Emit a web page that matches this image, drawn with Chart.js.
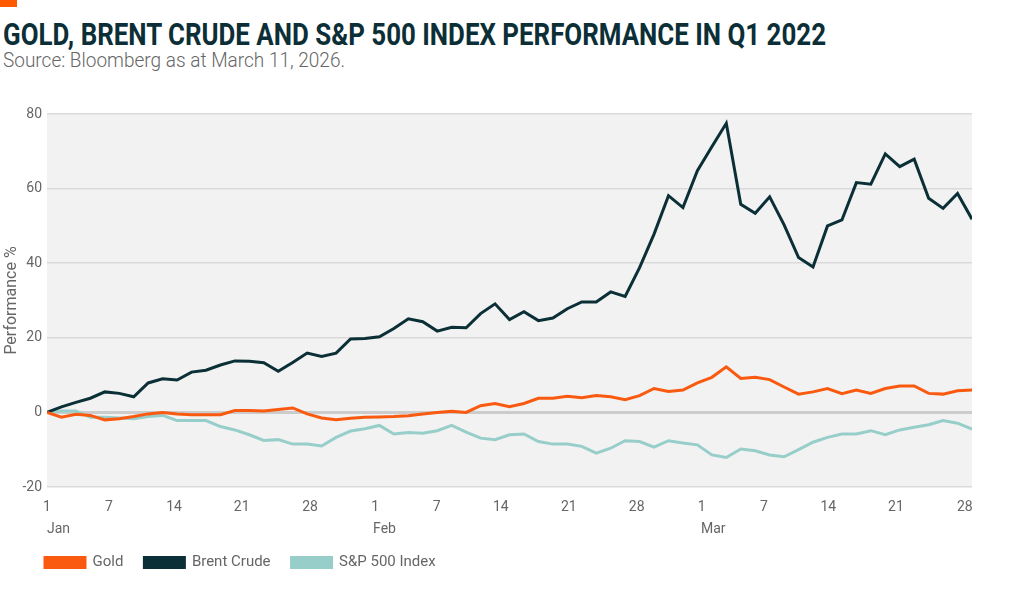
<!DOCTYPE html>
<html><head><meta charset="utf-8">
<script src="https://cdn.jsdelivr.net/npm/chart.js@4.4.1/dist/chart.umd.min.js"></script>
<style>
html,body{margin:0;padding:0;background:#fff;width:1024px;height:601px;overflow:hidden;}
#bar{position:absolute;left:0;top:0;width:17px;height:7px;background:#ff5a00;}
#title{position:absolute;left:3px;top:19px;font:700 31px Roboto;line-height:1;color:#0c2f37;white-space:nowrap;transform-origin:0 0;}
#sub{position:absolute;left:3px;top:50px;font:300 20px Roboto;line-height:1;color:#666;white-space:nowrap;transform-origin:0 0;}
#wrap{position:absolute;left:0;top:95px;width:1024px;height:506px;}
</style></head>
<body>
<div id="bar"></div>
<div id="title">GOLD, BRENT CRUDE AND S&amp;P 500 INDEX PERFORMANCE IN Q1 2022</div>
<div id="sub">Source: Bloomberg as at March 11, 2026.</div>
<div id="wrap"><canvas id="c"></canvas></div>
<script>
// ---- data (one value per trading day, 65 points) ----
const gold = [0,-1.3,-0.5,-0.8,-2.0,-1.7,-1.1,-0.4,0,-0.4,-0.6,-0.6,-0.6,0.5,0.5,0.4,0.8,1.2,-0.4,-1.5,-2.0,
  -1.6,-1.3,-1.2,-1.1,-0.9,-0.4,0,0.3,0,1.8,2.4,1.5,2.4,3.8,3.8,4.3,3.9,4.5,4.2,3.4,
  4.5,6.4,5.6,6.0,7.9,9.4,12.2,9.1,9.4,8.8,6.8,4.9,5.5,6.4,5.0,6.0,5.1,6.4,7.1,7.1,5.1,4.9,5.8,6.0];
const brent = [0,1.5,2.7,3.8,5.5,5.1,4.2,7.9,9.0,8.7,10.8,11.3,12.7,13.8,13.7,13.3,11.0,13.4,15.9,15.0,15.9,
  19.7,19.8,20.3,22.5,25.1,24.3,21.8,22.8,22.7,26.5,29.1,24.9,27.0,24.6,25.3,27.8,29.6,29.6,32.3,31.1,
  38.8,47.8,58.1,54.9,64.8,71.2,77.5,55.8,53.4,57.8,50.3,41.5,39.0,50.0,51.6,61.6,61.2,69.3,65.9,67.9,57.4,54.7,58.7,51.8];
const sp500 = [0,0.4,0.4,-1.3,-1.3,-1.5,-1.7,-1.1,-0.8,-2.2,-2.2,-2.2,-3.8,-4.7,-6.0,-7.5,-7.3,-8.5,-8.5,-9.0,-6.7,
  -5.0,-4.4,-3.5,-5.8,-5.4,-5.6,-4.9,-3.5,-5.3,-6.9,-7.3,-6.0,-5.8,-7.8,-8.5,-8.5,-9.1,-10.9,-9.6,-7.6,
  -7.8,-9.3,-7.6,-8.2,-8.7,-11.4,-12.1,-9.8,-10.3,-11.4,-11.9,-10.0,-8.0,-6.7,-5.8,-5.8,-4.9,-6.0,-4.7,-4.0,-3.3,-2.2,-2.9,-4.5];
const seriesNames = ['Gold','Brent Crude','S&P 500 Index'];
const seriesColors = ['#fa5a10','#0b2f36','#98ceca'];
// tick labels and their positions along the point index
const dayTickLabels = ['1','7','14','21','28','1','7','14','21','28','1','7','14','21','28'];
const dayTickPos = [0,4.29,8.79,13.47,18.2,22.7,26.96,31.4,36.1,40.8,45.3,49.6,54.06,58.74,63.5];
const monthLabels = ['Jan','Feb','Mar'];
const monthTickPos = [0,22.56,45.25];
const yTicks = [-20,0,20,40,60,80];

// fit title widths
function fit(id, w){const el=document.getElementById(id);const r=el.getBoundingClientRect().width;el.style.transform='scaleX('+(w/r)+')';}
fit('title',823); fit('sub',342);

const idx = gold.map((_, i) => i);
const bgPlugin = {id:'bg', beforeDraw(chart){const {ctx, chartArea:a}=chart; ctx.save(); ctx.fillStyle='#f2f2f2'; ctx.fillRect(a.left,a.top,a.right-a.left,a.bottom-a.top); ctx.restore();}};
const legendShift = {id:'legendShift', afterLayout(chart){ const L = chart.legend; if(L){ const h = L.bottom - L.top; L.left = 24; L.top = 439; L.bottom = 439 + h; } }};

new Chart(document.getElementById('c'), {
  type:'line',
  data:{
    labels: idx,
    datasets:[gold, brent, sp500].map((d,k)=>({
      label: seriesNames[k], data: d, borderColor: seriesColors[k], backgroundColor: seriesColors[k],
      borderWidth: 3, pointRadius: 0, tension: 0, fill:false
    }))
  },
  options:{
    responsive:true, maintainAspectRatio:false, animation:false,
    layout:{padding:{top:19,right:52,bottom:16,left:0}},
    plugins:{
      tooltip:{enabled:false},
      legend:{position:'bottom', align:'start',
        labels:{boxWidth:40, boxHeight:10, padding:21, color:'#666', font:{family:'Roboto', size:15}}}
    },
    scales:{
      x:{type:'linear', min:0, max:64, grid:{display:false, drawTicks:false}, border:{display:false},
        afterBuildTicks: s => { s.ticks = dayTickPos.map(v=>({value:v})); },
        afterFit: s => { s.height = 30; },
        ticks:{autoSkip:false, maxRotation:0, color:'#666', padding:12, font:{family:'Roboto', size:14},
          callback:(v,i)=>dayTickLabels[i]}},
      x2:{type:'linear', position:'bottom', min:0, max:64, grid:{display:false, drawTicks:false}, border:{display:false},
        afterBuildTicks: s => { s.ticks = monthTickPos.map(v=>({value:v})); },
        afterFit: s => { s.height = 22; },
        ticks:{autoSkip:false, maxRotation:0, align:'start', color:'#666', padding:4, font:{family:'Roboto', size:14},
          callback:(v,i)=>monthLabels[i]}},
      y:{min:-20, max:80,
        afterBuildTicks: s => { s.ticks = yTicks.map(v=>({value:v})); },
        afterFit: s => { s.width = 47; },
        border:{display:false},
        grid:{drawTicks:false, color: c => c.tick && c.tick.value===0 ? '#cccccc' : '#dadada',
          lineWidth: c => c.tick && c.tick.value===0 ? 3 : 1.5},
        ticks:{color:'#666', padding:5, font:{family:'Roboto', size:14}},
        title:{display:true, text:'Performance %', color:'#666', font:{family:'Roboto', size:16}, padding:{top:2,bottom:0}}}
    }
  },
  plugins:[bgPlugin, legendShift]
});
</script>
</body></html>
